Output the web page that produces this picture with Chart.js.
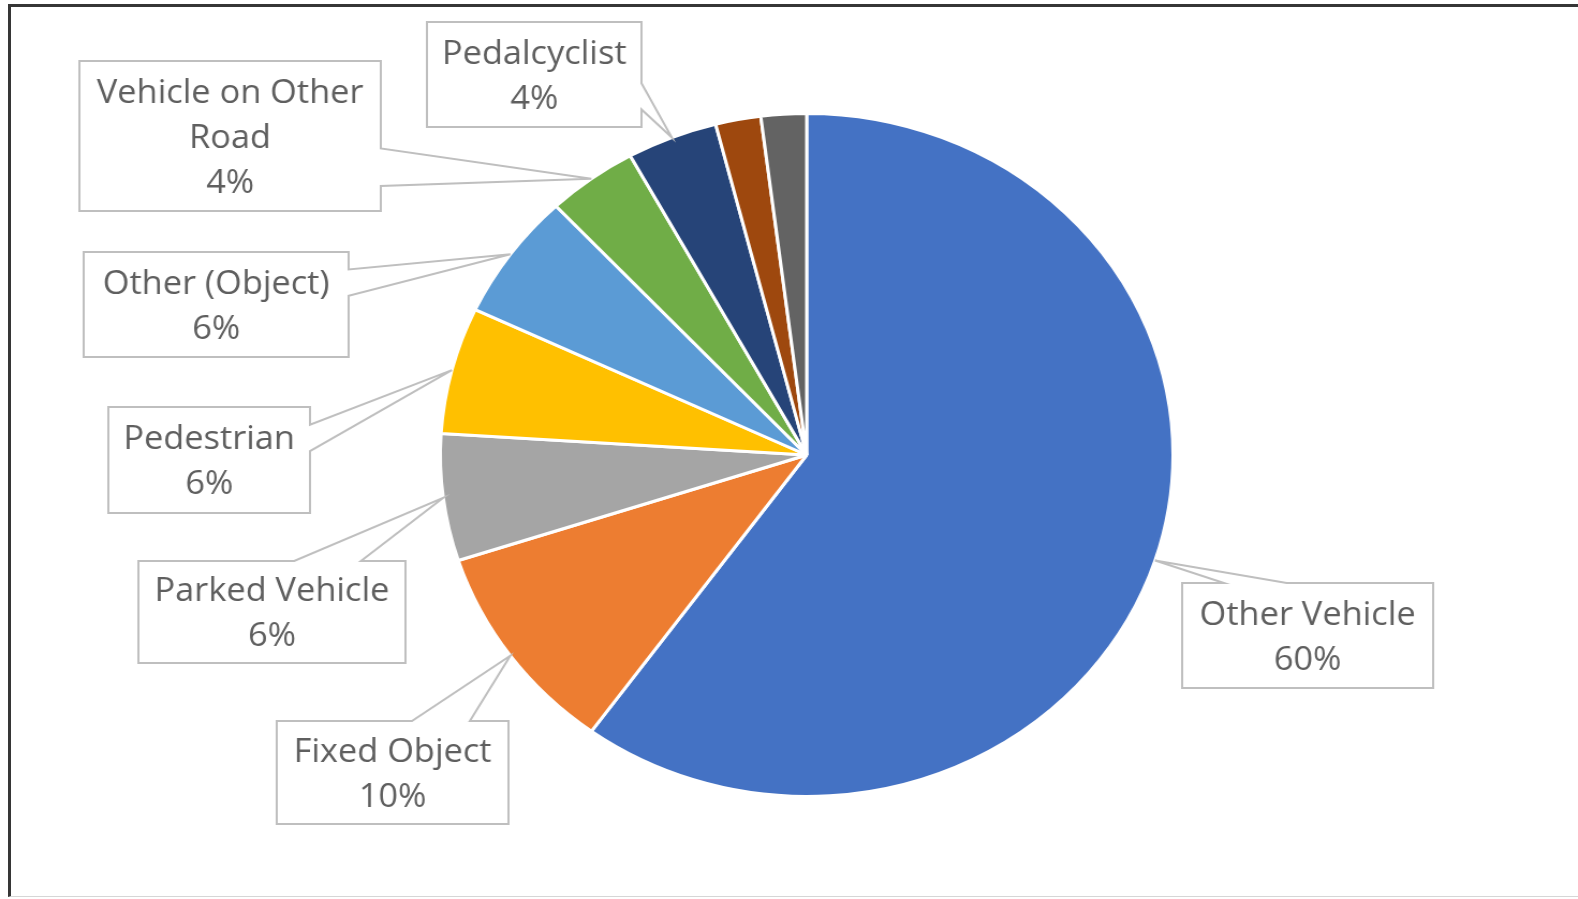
<!DOCTYPE html>
<html>
<head>
<meta charset="utf-8">
<script src="https://cdn.jsdelivr.net/npm/chart.js@4.4.0/dist/chart.umd.min.js"></script>
<style>
    html, body { margin: 0; padding: 0; background: #fff; }
    body { width: 1578px; height: 899px; overflow: hidden; position: relative; }
    /* chart is drawn a bit narrower and widened to the page */
    #stage { position: absolute; left: 0; top: 0; width: 1471px; height: 899px; transform: scaleX(1.0727); transform-origin: 0 0; }
    #frame { position: absolute; left: 8px; top: 4px; width: 1600px; height: 889px;
             border-top: 3px solid #363636; border-left: 3px solid #363636; border-bottom: 1px solid #d6d6d6;
             pointer-events: none; }
</style>
</head>
<body>
<div id="stage"><canvas id="collisionPie"></canvas></div>
<div id="frame"></div>
<script>
// Share of crashes by first harmful event (%)
const categories = ['Other Vehicle', 'Fixed Object', 'Parked Vehicle', 'Pedestrian', 'Other (Object)',
                    'Vehicle on Other Road', 'Pedalcyclist', 'Animal', 'Unknown'];
const shares = [60, 10, 6, 6, 6, 4, 4, 2, 2];
const sliceColors = ['#4472C4', '#ED7D31', '#A5A5A5', '#FFC000', '#5B9BD5',
                     '#70AD47', '#264478', '#9E480E', '#636363'];

// Label boxes (canvas px), null = slice has no label
const calloutBoxes = [
    { left: 1102, top: 583, width: 234, height: 105 },
    { left: 258, top: 721, width: 216, height: 103 },
    { left: 129, top: 561, width: 249, height: 102 },
    { left: 101, top: 407, width: 188, height: 106 },
    { left: 78, top: 252, width: 247, height: 105 },
    { left: 74, top: 61, width: 281, height: 150 },
    { left: 398, top: 22, width: 200, height: 105 },
    null,
    null
];

const LABEL_FONT = '32px "Open Sans"';
const LINE_GAP = 45;

function wrapText(ctx, text, maxWidth) {
    const words = text.split(' ');
    const lines = [];
    let cur = '';
    words.forEach(w => {
        const test = cur ? cur + ' ' + w : w;
        if (cur && ctx.measureText(test).width > maxWidth) {
            lines.push(cur);
            cur = w;
        } else {
            cur = test;
        }
    });
    if (cur) lines.push(cur);
    return lines;
}

// rectangle with a wedge pointing at (tx, ty), like an Excel wedge callout
function wedgeBoxPath(ctx, b, tx, ty) {
    const l = b.left, t = b.top, r = b.left + b.width, bt = b.top + b.height;
    const w = b.width, h = b.height;
    const dx = (tx - (l + r) / 2) / w;
    const dy = (ty - (t + bt) / 2) / h;
    const span = f => f < 0 ? [2 / 12, 5 / 12] : [7 / 12, 10 / 12];
    const horiz = Math.abs(dx) > Math.abs(dy);

    ctx.beginPath();
    ctx.moveTo(l, t);
    if (!horiz && dy < 0) {
        const [a, c] = span(dx);
        ctx.lineTo(l + a * w, t); ctx.lineTo(tx, ty); ctx.lineTo(l + c * w, t);
    }
    ctx.lineTo(r, t);
    if (horiz && dx > 0) {
        const [a, c] = span(dy);
        ctx.lineTo(r, t + a * h); ctx.lineTo(tx, ty); ctx.lineTo(r, t + c * h);
    }
    ctx.lineTo(r, bt);
    if (!horiz && dy >= 0) {
        const [a, c] = span(dx);
        ctx.lineTo(l + c * w, bt); ctx.lineTo(tx, ty); ctx.lineTo(l + a * w, bt);
    }
    ctx.lineTo(l, bt);
    if (horiz && dx <= 0) {
        const [a, c] = span(dy);
        ctx.lineTo(l, t + c * h); ctx.lineTo(tx, ty); ctx.lineTo(l, t + a * h);
    }
    ctx.closePath();
}

const calloutPlugin = {
    id: 'callouts',
    afterDatasetsDraw(chart) {
        const ctx = chart.ctx;
        const arcs = chart.getDatasetMeta(0).data;
        ctx.save();
        ctx.font = LABEL_FONT;
        arcs.forEach((arc, i) => {
            const box = calloutBoxes[i];
            if (!box) return;
            const mid = (arc.startAngle + arc.endAngle) / 2;
            const tipX = arc.x + Math.cos(mid) * arc.outerRadius;
            const tipY = arc.y + Math.sin(mid) * arc.outerRadius;

            wedgeBoxPath(ctx, box, tipX, tipY);
            ctx.fillStyle = '#ffffff';
            ctx.fill();
            ctx.lineWidth = 2;
            ctx.strokeStyle = '#bfbfbf';
            ctx.stroke();

            const lines = wrapText(ctx, categories[i], box.width - 16);
            lines.push(shares[i] + '%');
            const cx = box.left + box.width / 2;
            const cy = box.top + box.height / 2;
            ctx.fillStyle = '#5f5f5f';
            ctx.textAlign = 'center';
            ctx.textBaseline = 'alphabetic';
            lines.forEach((line, k) => {
                const y = cy + (k - (lines.length - 1) / 2) * LINE_GAP + 11.5;
                ctx.fillText(line, cx, y);
            });
        });
        ctx.restore();
    }
};

const ctx = document.getElementById('collisionPie').getContext('2d');
new Chart(ctx, {
    type: 'pie',
    data: {
        labels: categories,
        datasets: [{
            data: shares,
            backgroundColor: sliceColors,
            borderColor: '#ffffff',
            borderWidth: 3
        }]
    },
    options: {
        responsive: true,
        maintainAspectRatio: false,
        animation: false,
        layout: { padding: { left: 409, right: 376, top: 112, bottom: 101 } },
        plugins: {
            legend: { display: false },
            tooltip: { enabled: false }
        }
    },
    plugins: [calloutPlugin]
});
</script>
</body>
</html>
